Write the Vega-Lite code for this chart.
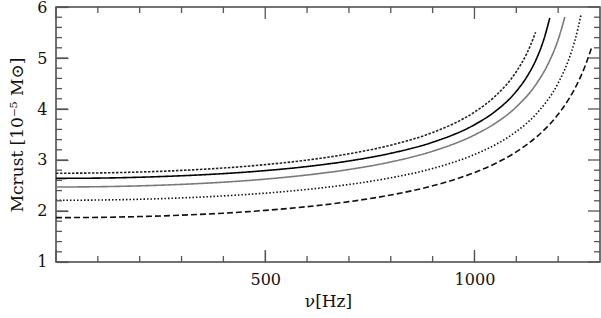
{
  "$schema": "https://vega.github.io/schema/vega-lite/v6.json",
  "width": 544,
  "height": 255,
  "autosize": {"type": "none"},
  "padding": {"left": 56, "top": 7, "right": 1, "bottom": 56},
  "config": {
    "view": {"stroke": "#444", "strokeWidth": 1.5},
    "axis": {"domain": false, "grid": false, "tickColor": "#555555", "tickWidth": 1.2, "labelFont": "DejaVu Serif", "labelFontSize": 16, "labelColor": "#111", "titleFont": "DejaVu Serif", "titleFontSize": 17, "titleFontWeight": "normal", "titleColor": "#111"}
  },
  "datasets": {
    "curves": [
    {"nu":0,"M":2.74,"c":"T"},{"nu":100,"M":2.746,"c":"T"},{"nu":200,"M":2.764,"c":"T"},{"nu":300,"M":2.796,"c":"T"},{"nu":400,"M":2.843,"c":"T"},{"nu":500,"M":2.909,"c":"T"},{"nu":600,"M":2.999,"c":"T"},{"nu":700,"M":3.121,"c":"T"},{"nu":800,"M":3.291,"c":"T"},{"nu":900,"M":3.54,"c":"T"},{"nu":1000,"M":3.94,"c":"T"},{"nu":1050,"M":4.255,"c":"T"},{"nu":1100,"M":4.733,"c":"T"},{"nu":1125,"M":5.089,"c":"T"},{"nu":1135,"M":5.27,"c":"T"},{"nu":1146,"M":5.505,"c":"T"},
    {"nu":0,"M":2.64,"c":"S"},{"nu":100,"M":2.645,"c":"S"},{"nu":200,"M":2.662,"c":"S"},{"nu":300,"M":2.691,"c":"S"},{"nu":400,"M":2.733,"c":"S"},{"nu":500,"M":2.792,"c":"S"},{"nu":600,"M":2.872,"c":"S"},{"nu":700,"M":2.981,"c":"S"},{"nu":800,"M":3.131,"c":"S"},{"nu":900,"M":3.348,"c":"S"},{"nu":1000,"M":3.692,"c":"S"},{"nu":1050,"M":3.956,"c":"S"},{"nu":1100,"M":4.346,"c":"S"},{"nu":1125,"M":4.629,"c":"S"},{"nu":1150,"M":5.019,"c":"S"},{"nu":1165,"M":5.343,"c":"S"},{"nu":1180,"M":5.784,"c":"S"},
    {"nu":0,"M":2.47,"c":"G"},{"nu":100,"M":2.476,"c":"G"},{"nu":200,"M":2.493,"c":"G"},{"nu":300,"M":2.522,"c":"G"},{"nu":400,"M":2.565,"c":"G"},{"nu":500,"M":2.625,"c":"G"},{"nu":600,"M":2.706,"c":"G"},{"nu":700,"M":2.814,"c":"G"},{"nu":800,"M":2.962,"c":"G"},{"nu":900,"M":3.172,"c":"G"},{"nu":1000,"M":3.491,"c":"G"},{"nu":1050,"M":3.722,"c":"G"},{"nu":1100,"M":4.041,"c":"G"},{"nu":1150,"M":4.519,"c":"G"},{"nu":1175,"M":4.869,"c":"G"},{"nu":1200,"M":5.36,"c":"G"},{"nu":1216,"M":5.804,"c":"G"},
    {"nu":0,"M":2.21,"c":"D"},{"nu":100,"M":2.215,"c":"D"},{"nu":200,"M":2.23,"c":"D"},{"nu":300,"M":2.257,"c":"D"},{"nu":400,"M":2.296,"c":"D"},{"nu":500,"M":2.35,"c":"D"},{"nu":600,"M":2.423,"c":"D"},{"nu":700,"M":2.52,"c":"D"},{"nu":800,"M":2.651,"c":"D"},{"nu":900,"M":2.833,"c":"D"},{"nu":1000,"M":3.108,"c":"D"},{"nu":1050,"M":3.3,"c":"D"},{"nu":1100,"M":3.558,"c":"D"},{"nu":1150,"M":3.925,"c":"D"},{"nu":1200,"M":4.507,"c":"D"},{"nu":1225,"M":4.964,"c":"D"},{"nu":1240,"M":5.342,"c":"D"},{"nu":1255,"M":5.856,"c":"D"},
    {"nu":0,"M":1.87,"c":"K"},{"nu":100,"M":1.875,"c":"K"},{"nu":200,"M":1.891,"c":"K"},{"nu":300,"M":1.918,"c":"K"},{"nu":400,"M":1.957,"c":"K"},{"nu":500,"M":2.012,"c":"K"},{"nu":600,"M":2.085,"c":"K"},{"nu":700,"M":2.183,"c":"K"},{"nu":800,"M":2.314,"c":"K"},{"nu":900,"M":2.494,"c":"K"},{"nu":1000,"M":2.754,"c":"K"},{"nu":1050,"M":2.932,"c":"K"},{"nu":1100,"M":3.16,"c":"K"},{"nu":1150,"M":3.464,"c":"K"},{"nu":1200,"M":3.895,"c":"K"},{"nu":1225,"M":4.189,"c":"K"},{"nu":1250,"M":4.568,"c":"K"},{"nu":1265,"M":4.854,"c":"K"},{"nu":1280,"M":5.205,"c":"K"}
    ],
    "xmajor": [{"v":0},{"v":500},{"v":1000}],
    "xminor": [{"v":100},{"v":200},{"v":300},{"v":400},{"v":600},{"v":700},{"v":800},{"v":900},{"v":1100},{"v":1200}],
    "ymajor": [{"v":1},{"v":2},{"v":3},{"v":4},{"v":5},{"v":6}],
    "yminor": [{"v":1.2},{"v":1.4},{"v":1.6},{"v":1.8},{"v":2.2},{"v":2.4},{"v":2.6},{"v":2.8},{"v":3.2},{"v":3.4},{"v":3.6},{"v":3.8},{"v":4.2},{"v":4.4},{"v":4.6},{"v":4.8},{"v":5.2},{"v":5.4},{"v":5.6},{"v":5.8}]
  },
  "layer": [
    {
      "data": {"name": "curves"},
      "mark": {"type": "line", "interpolate": "monotone", "strokeWidth": 1.6},
      "encoding": {
        "x": {"field": "nu", "type": "quantitative", "scale": {"domain": [11.95, 1288.05], "nice": false, "zero": false},
              "axis": {"orient": "bottom", "values": [0, 500, 1000], "format": "d", "offset": -12, "tickSize": 12, "labelPadding": 9, "title": "ν[Hz]", "titlePadding": 6}},
        "y": {"field": "M", "type": "quantitative", "scale": {"domain": [1.098, 5.902], "nice": false, "zero": false},
              "axis": {"orient": "left", "values": [1, 2, 3, 4, 5, 6], "format": "d", "offset": -12, "tickSize": 12, "labelPadding": 9, "title": "Mcrust [10⁻⁵ M⊙]", "titlePadding": 10}},
        "color": {"field": "c", "type": "nominal", "legend": null,
                  "scale": {"domain": ["T", "S", "G", "D", "K"], "range": ["#222222", "#000000", "#7a7a7a", "#111111", "#111111"]}},
        "strokeDash": {"field": "c", "type": "nominal", "legend": null,
                  "scale": {"domain": ["T", "S", "G", "D", "K"], "range": [[2.5, 1.5], [1, 0], [1, 0], [1.5, 2], [6, 3]]}}
      }
    },
    {"data": {"name": "xmajor"}, "mark": {"type": "bar", "orient": "vertical", "color": "#555555", "width": 1.3},
     "encoding": {"x": {"field": "v", "type": "quantitative"}, "y": {"datum": 1, "type": "quantitative"}, "y2": {"datum": 1.235}}},
    {"data": {"name": "xmajor"}, "mark": {"type": "bar", "orient": "vertical", "color": "#555555", "width": 1.3},
     "encoding": {"x": {"field": "v", "type": "quantitative"}, "y": {"datum": 6, "type": "quantitative"}, "y2": {"datum": 5.765}}},
    {"data": {"name": "xminor"}, "mark": {"type": "bar", "orient": "vertical", "color": "#555555", "width": 1.3},
     "encoding": {"x": {"field": "v", "type": "quantitative"}, "y": {"datum": 1, "type": "quantitative"}, "y2": {"datum": 1.118}}},
    {"data": {"name": "xminor"}, "mark": {"type": "bar", "orient": "vertical", "color": "#555555", "width": 1.3},
     "encoding": {"x": {"field": "v", "type": "quantitative"}, "y": {"datum": 6, "type": "quantitative"}, "y2": {"datum": 5.882}}},
    {"data": {"name": "ymajor"}, "mark": {"type": "bar", "orient": "horizontal", "color": "#555555", "height": 1.3},
     "encoding": {"y": {"field": "v", "type": "quantitative"}, "x": {"datum": 0, "type": "quantitative"}, "x2": {"datum": 28.7}}},
    {"data": {"name": "ymajor"}, "mark": {"type": "bar", "orient": "horizontal", "color": "#555555", "height": 1.3},
     "encoding": {"y": {"field": "v", "type": "quantitative"}, "x": {"datum": 1300, "type": "quantitative"}, "x2": {"datum": 1271.3}}},
    {"data": {"name": "yminor"}, "mark": {"type": "bar", "orient": "horizontal", "color": "#555555", "height": 1.3},
     "encoding": {"y": {"field": "v", "type": "quantitative"}, "x": {"datum": 0, "type": "quantitative"}, "x2": {"datum": 14.3}}},
    {"data": {"name": "yminor"}, "mark": {"type": "bar", "orient": "horizontal", "color": "#555555", "height": 1.3},
     "encoding": {"y": {"field": "v", "type": "quantitative"}, "x": {"datum": 1300, "type": "quantitative"}, "x2": {"datum": 1285.7}}}
  ]
}
